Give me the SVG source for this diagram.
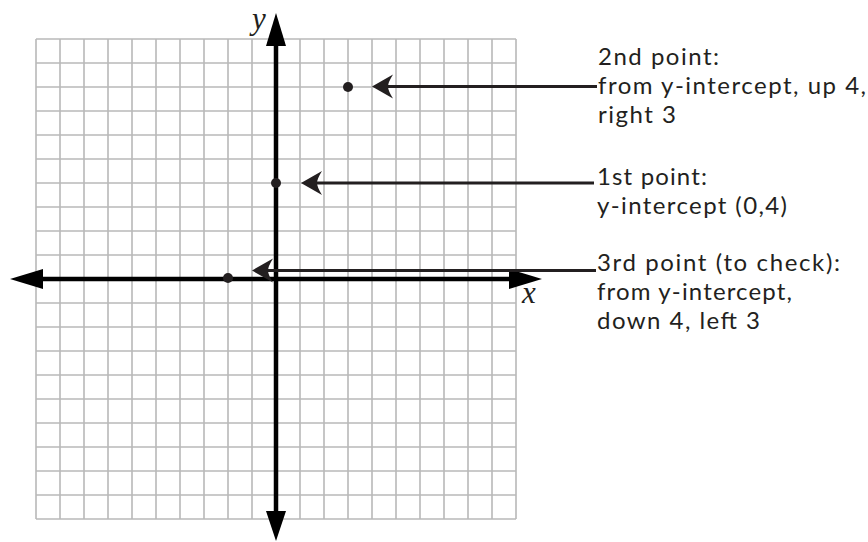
<svg xmlns="http://www.w3.org/2000/svg" width="868" height="542" viewBox="0 0 868 542">
  <style>
    .grid line { stroke: #b8b8b8; stroke-width: 1.6; }
    .axis { stroke: #000; stroke-width: 4.5; fill: none; }
    .axhead { fill: #000; }
    .leader { stroke: #231f20; stroke-width: 3; fill: none; }
    .barb { fill: #231f20; }
    .dot { fill: #231f20; }
    .lbl { font-family: Lato, "Open Sans", "Liberation Sans", sans-serif; font-size: 24px; fill: #231f20; }
    .axlbl { font-family: "Liberation Serif", "DejaVu Serif", serif; font-style: italic; font-size: 31px; fill: #231f20; }
  </style>
  <defs>
    <path id="barb" d="M0,0 L21,-12 Q16,-4 16,0 Q16,4 21,12 Z"/>
  </defs>

  <g id="grid" class="grid">
    <line x1="36" y1="39" x2="36" y2="519"/>
    <line x1="60" y1="39" x2="60" y2="519"/>
    <line x1="84" y1="39" x2="84" y2="519"/>
    <line x1="108" y1="39" x2="108" y2="519"/>
    <line x1="132" y1="39" x2="132" y2="519"/>
    <line x1="156" y1="39" x2="156" y2="519"/>
    <line x1="180" y1="39" x2="180" y2="519"/>
    <line x1="204" y1="39" x2="204" y2="519"/>
    <line x1="228" y1="39" x2="228" y2="519"/>
    <line x1="252" y1="39" x2="252" y2="519"/>
    <line x1="276" y1="39" x2="276" y2="519"/>
    <line x1="300" y1="39" x2="300" y2="519"/>
    <line x1="324" y1="39" x2="324" y2="519"/>
    <line x1="348" y1="39" x2="348" y2="519"/>
    <line x1="372" y1="39" x2="372" y2="519"/>
    <line x1="396" y1="39" x2="396" y2="519"/>
    <line x1="420" y1="39" x2="420" y2="519"/>
    <line x1="444" y1="39" x2="444" y2="519"/>
    <line x1="468" y1="39" x2="468" y2="519"/>
    <line x1="492" y1="39" x2="492" y2="519"/>
    <line x1="516" y1="39" x2="516" y2="519"/>
    <line x1="36" y1="39" x2="516" y2="39"/>
    <line x1="36" y1="63" x2="516" y2="63"/>
    <line x1="36" y1="87" x2="516" y2="87"/>
    <line x1="36" y1="111" x2="516" y2="111"/>
    <line x1="36" y1="135" x2="516" y2="135"/>
    <line x1="36" y1="159" x2="516" y2="159"/>
    <line x1="36" y1="183" x2="516" y2="183"/>
    <line x1="36" y1="207" x2="516" y2="207"/>
    <line x1="36" y1="231" x2="516" y2="231"/>
    <line x1="36" y1="255" x2="516" y2="255"/>
    <line x1="36" y1="279" x2="516" y2="279"/>
    <line x1="36" y1="303" x2="516" y2="303"/>
    <line x1="36" y1="327" x2="516" y2="327"/>
    <line x1="36" y1="351" x2="516" y2="351"/>
    <line x1="36" y1="375" x2="516" y2="375"/>
    <line x1="36" y1="399" x2="516" y2="399"/>
    <line x1="36" y1="423" x2="516" y2="423"/>
    <line x1="36" y1="447" x2="516" y2="447"/>
    <line x1="36" y1="471" x2="516" y2="471"/>
    <line x1="36" y1="495" x2="516" y2="495"/>
    <line x1="36" y1="519" x2="516" y2="519"/>
  </g>

  <g id="axes">
    <line class="axis" x1="276" y1="40" x2="276" y2="514"/>
    <line class="axis" x1="40" y1="279" x2="512" y2="279"/>
    <polygon class="axhead" points="276,13 266,46 286,46"/>
    <polygon class="axhead" points="276,541 266,511 286,511"/>
    <polygon class="axhead" points="10,279 43,269 43,289"/>
    <polygon class="axhead" points="542,279 509,269 509,289"/>
    <text class="axlbl" x="252" y="28.5">y</text>
    <text class="axlbl" x="522" y="303">x</text>
  </g>

  <g id="point2"><circle class="dot" cx="348" cy="87" r="5"/></g>
  <g id="point1"><circle class="dot" cx="276" cy="183" r="5"/></g>
  <g id="point3"><circle class="dot" cx="228" cy="278" r="5"/></g>

  <g id="connectors">
    <line class="leader" x1="386" y1="86.5" x2="597" y2="86.5"/>
    <use href="#barb" class="barb" transform="translate(372,86.5)"/>
    <line class="leader" x1="315" y1="183" x2="594" y2="183"/>
    <use href="#barb" class="barb" transform="translate(301,183)"/>
    <line class="leader" x1="266" y1="270.5" x2="596" y2="270.5"/>
    <use href="#barb" class="barb" transform="translate(252,270.5)"/>
  </g>

  <g id="label2">
    <text class="lbl" x="598" y="65" textLength="121" lengthAdjust="spacing">2nd point:</text>
    <text class="lbl" x="598" y="94" textLength="268" lengthAdjust="spacing">from y-intercept, up 4,</text>
    <text class="lbl" x="598" y="123" textLength="78" lengthAdjust="spacing">right 3</text>
  </g>
  <g id="label1">
    <text class="lbl" x="597" y="185" textLength="110" lengthAdjust="spacing">1st point:</text>
    <text class="lbl" x="597" y="214" textLength="190" lengthAdjust="spacing">y-intercept (0,4)</text>
  </g>
  <g id="label3">
    <text class="lbl" x="597" y="271" textLength="243" lengthAdjust="spacing">3rd point (to check):</text>
    <text class="lbl" x="597" y="300" textLength="195" lengthAdjust="spacing">from y-intercept,</text>
    <text class="lbl" x="597" y="329" textLength="163" lengthAdjust="spacing">down 4, left 3</text>
  </g>
</svg>
